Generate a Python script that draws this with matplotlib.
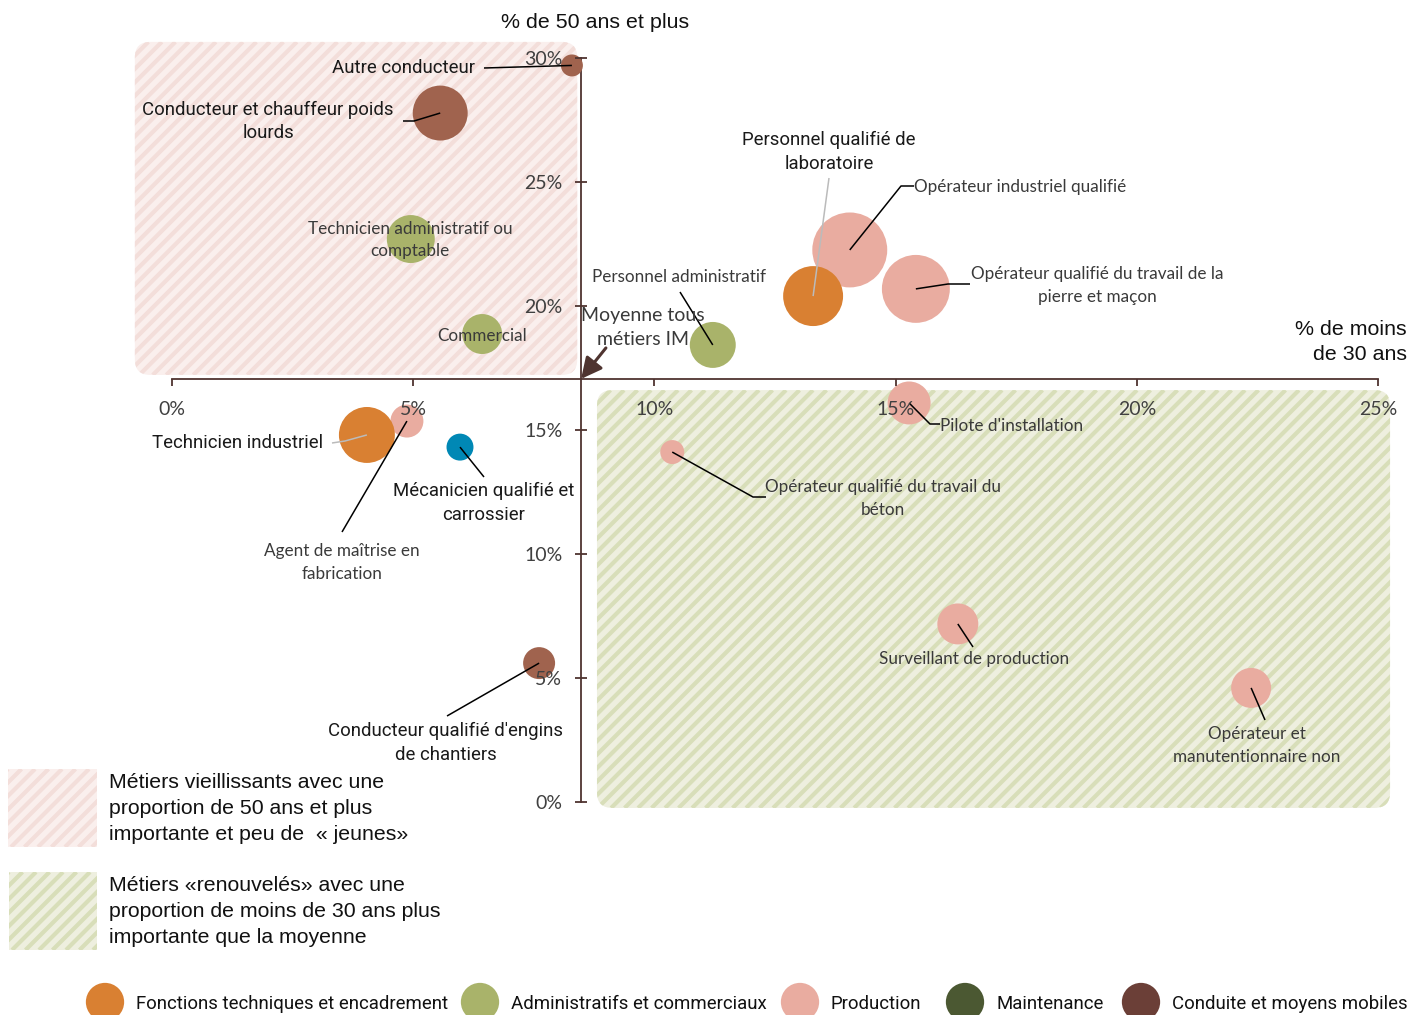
import matplotlib
matplotlib.use("Agg")
import matplotlib.pyplot as plt
from matplotlib.patches import FancyBboxPatch, Rectangle
from matplotlib.collections import LineCollection
from matplotlib.transforms import IdentityTransform, Affine2D

# ---------------- data ----------------
metiers = [
    "Autre conducteur",
    "Conducteur et chauffeur poids lourds",
    "Technicien administratif ou comptable",
    "Commercial",
    "Personnel administratif",
    "Personnel qualifié de laboratoire",
    "Opérateur industriel qualifié",
    "Opérateur qualifié du travail de la pierre et maçon",
    "Pilote d'installation",
    "Opérateur qualifié du travail du béton",
    "Surveillant de production",
    "Opérateur et manutentionnaire non",
    "Technicien industriel",
    "Agent de maîtrise en fabrication",
    "Mécanicien qualifié et carrossier",
    "Conducteur qualifié d'engins de chantiers",
]
pct_moins30 = [8.29, 5.56, 4.95, 6.43, 11.21, 13.29, 14.05, 15.42, 15.28, 10.37, 16.29, 22.37, 4.04, 4.87, 5.97, 7.61]
pct_50plus = [29.70, 27.78, 22.70, 18.87, 18.43, 20.40, 22.26, 20.69, 16.09, 14.11, 7.18, 4.60, 14.80, 15.36, 14.31, 5.60]
effectifs = [121, 756, 576, 400, 529, 900, 1406, 1156, 462, 144, 420, 400, 784, 272, 182, 256]
familles = ["Conduite", "Conduite", "Admin", "Admin", "Admin", "Tech", "Prod", "Prod",
            "Prod", "Prod", "Prod", "Prod", "Tech", "Prod", "Maint", "Conduite"]

familles_cles = ["Tech", "Admin", "Prod", "Maint", "Conduite"]
familles_noms = ["Fonctions techniques et encadrement", "Administratifs et commerciaux",
                 "Production", "Maintenance", "Conduite et moyens mobiles"]
couleurs_legende = ["#D98032", "#A9B36A", "#E9ACA0", "#4B5832", "#6B3F37"]
couleurs_bulles = {"Tech": "#D98032", "Admin": "#A9B36A", "Prod": "#E9ACA0",
                   "Maint": "#0088B5", "Conduite": "#A0634E"}

moyenne_moins30 = 8.48
moyenne_50plus = 17.06

xticks = [0, 5, 10, 15, 20, 25]
xticklabels = ["0%", "5%", "10%", "15%", "20%", "25%"]
yticks = [0, 5, 10, 15, 20, 25, 30]
yticklabels = ["0%", "5%", "10%", "15%", "20%", "25%", "30%"]

# ---------------- figure ----------------
W, H = 1424, 1015
fig = plt.figure(figsize=(W / 100, H / 100), dpi=100)
ax = fig.add_axes([0, 0, 1, 1])
ax.set_xlim(-172 / 48.24, (W - 172) / 48.24)
ax.set_ylim((802 - H) / 24.8, 802 / 24.8)
ax.patch.set_alpha(0)

# pixel (top-left origin) -> display
PIX = Affine2D().scale(1, -1).translate(0, H)
inv = ax.transData.inverted()


def p2d(px, py):
    return inv.transform(PIX.transform((px, py)))


def d2p(x, y):
    d = ax.transData.transform((x, y))
    return d[0], H - d[1]


CALIBRI = ["Lato", "DejaVu Sans"]
ROBOTO = ["Roboto", "DejaVu Sans"]
ARIAL = ["Liberation Sans", "DejaVu Sans"]
AXC = "#4F3430"


def striped(patch, col, period=13.5, lw=3.0, z=0.6):
    ax.add_patch(patch)
    bb = patch.get_window_extent()
    x0, y0, x1, y1 = bb.x0, bb.y0, bb.x1, bb.y1
    h = y1 - y0
    segs = []
    c = x0 - h
    while c < x1:
        segs.append([(c, y0), (c + h, y1)])
        c += period
    lc = LineCollection(segs, colors=col, linewidths=lw, transform=IdentityTransform(), zorder=z)
    ax.add_collection(lc, autolim=False)
    lc.set_clip_path(patch)


# quadrant regions (data coords)
asp = 48.24 / 24.8
r_round = 0.32
pink = FancyBboxPatch((-0.77, 17.22), 8.40 + 0.77, 30.65 - 17.22,
                      boxstyle=f"round,pad=0,rounding_size={r_round}", mutation_aspect=asp,
                      facecolor="#FAEFED", edgecolor="none", zorder=0.5)
striped(pink, "#F3DEDA")
green = FancyBboxPatch((8.81, -0.24), 25.25 - 8.81, 16.61 + 0.24,
                       boxstyle=f"round,pad=0,rounding_size={r_round}", mutation_aspect=asp,
                       facecolor="#EEEFDF", edgecolor="none", zorder=0.5)
striped(green, "#D8DEB9")

# axes / spines
for s in ["top", "right"]:
    ax.spines[s].set_visible(False)
ax.spines["left"].set_position(("data", moyenne_moins30))
ax.spines["bottom"].set_position(("data", moyenne_50plus))
ax.spines["left"].set_bounds(0, 30)
ax.spines["bottom"].set_bounds(0, 25)
for s in ["left", "bottom"]:
    ax.spines[s].set_color(AXC)
    ax.spines[s].set_linewidth(1.3)
    ax.spines[s].set_zorder(1.5)
ax.set_xticks(xticks)
ax.set_xticklabels(xticklabels)
ax.set_yticks(yticks)
ax.set_yticklabels(yticklabels)
ax.tick_params(axis="x", direction="out", length=5, width=1.3, color=AXC, pad=11,
               labelsize=14, labelcolor="#404040")
ax.tick_params(axis="y", direction="inout", length=9, width=1.3, color=AXC, pad=9,
               labelsize=14, labelcolor="#404040")
for lab in ax.get_xticklabels() + ax.get_yticklabels():
    lab.set_family(CALIBRI)
ax.xaxis.set_zorder(5)
ax.yaxis.set_zorder(5)

# bubbles
ordre = sorted(range(len(metiers)), key=lambda i: 0 if familles[i] == "Prod" else 1)
for i in ordre:
    ax.scatter(pct_moins30[i], pct_50plus[i], s=effectifs[i] * 2.07,
               color=couleurs_bulles[familles[i]], edgecolors="none",
               zorder=2 if familles[i] == "Prod" else 2.2, clip_on=False)

# labels: (text, x_px, y_px, ha, style, leader points px, leader colour)
labels = [
    ("Autre conducteur", 475, 68, "right", "r", [(484, 68)], "k"),
    ("Conducteur et chauffeur poids\nlourds", 268, 121.5, "center", "r", [(403, 121), (414, 121)], "k"),
    ("Technicien administratif ou\ncomptable", 410, 240, "center", "c", None, "k"),
    ("Commercial", 482, 336, "center", "c", None, "k"),
    ("Personnel administratif", 679, 277, "center", "c", [(680, 292)], "k"),
    ("Personnel qualifié de\nlaboratoire", 829, 152, "center", "r", [(829, 178)], "#BBBBBB"),
    ("Opérateur industriel qualifié", 914, 187, "left", "c", [(914, 186), (901, 186)], "k"),
    ("Opérateur qualifié du travail de la\npierre et maçon", 1097, 285.5, "center", "c",
     [(970, 284), (948, 284)], "k"),
    ("Pilote d'installation", 940, 426, "left", "c", [(940, 424), (930, 424)], "k"),
    ("Opérateur qualifié du travail du\nbéton", 883, 498.5, "center", "c", [(766, 497), (753, 497)], "k"),
    ("Surveillant de production", 974, 659, "center", "c", [(973, 647)], "k"),
    ("Opérateur et\nmanutentionnaire non", 1257, 745.5, "center", "c", [(1265, 720)], "k"),
    ("Technicien industriel", 323, 443, "right", "r", [(332, 443), (345, 441)], "#BBBBBB"),
    ("Agent de maîtrise en\nfabrication", 342, 562.5, "center", "c", [(342, 532)], "k"),
    ("Mécanicien qualifié et\ncarrossier", 484, 503, "center", "r", [(484, 477)], "k"),
    ("Conducteur qualifié d'engins\nde chantiers", 446, 743, "center", "r", [(447, 716)], "k"),
]

for i, (txt, lx, ly, ha, st, lead, lc) in enumerate(labels):
    if st == "r":
        ax.text(lx, ly, txt, transform=PIX, ha=ha, va="center", ma="center", fontsize=13.4,
                family=ROBOTO, color="#1A1A1A", linespacing=1.38, zorder=6)
    else:
        ax.text(lx, ly, txt, transform=PIX, ha=ha, va="center", ma="center", fontsize=12.3,
                family=CALIBRI, color="#3A3A3A", linespacing=1.47, zorder=6)
    if lead:
        pts = list(lead) + [d2p(pct_moins30[i], pct_50plus[i])]
        xs = [p[0] for p in pts]
        ys = [p[1] for p in pts]
        ax.plot(xs, ys, transform=PIX, color=lc, lw=1.1, zorder=4, solid_capstyle="butt")

# moyenne annotation
ax.annotate("Moyenne tous\nmétiers IM", xy=(moyenne_moins30, moyenne_50plus), xycoords="data",
            xytext=(643, 327.5), textcoords=PIX, ha="center", va="center", fontsize=14,
            family=CALIBRI, color="#3A3A3A", linespacing=1.49, zorder=6,
            arrowprops=dict(arrowstyle="-|>,head_length=0.9,head_width=0.45", color=AXC, lw=2.2,
                            shrinkA=0, shrinkB=0, patchA=None,
                            relpos=(0.2, 0.0)))

# axis titles
ax.text(595, 22, "% de 50 ans et plus", transform=PIX, ha="center", va="center", fontsize=15.4,
        family=ARIAL, color="#111111")
ax.text(1407, 342, "% de moins\nde 30 ans", transform=PIX, ha="right", va="center", ma="right",
        fontsize=15.4, family=ARIAL, color="#111111", linespacing=1.4)

# quadrant legend boxes
lb1 = Rectangle((8, H - 847), 89, 78, transform=IdentityTransform(), facecolor="#FAEFED",
                edgecolor="none", zorder=0.5)
striped(lb1, "#F3DEDA")
lb2 = Rectangle((9, H - 950), 88, 78, transform=IdentityTransform(), facecolor="#EEEFDF",
                edgecolor="none", zorder=0.5)
striped(lb2, "#D8DEB9")
ax.text(109, 808.5, "Métiers vieillissants avec une\nproportion de 50 ans et plus\nimportante et peu de  « jeunes»",
        transform=PIX, ha="left", va="center", fontsize=15.3, family=ARIAL, color="#111111",
        linespacing=1.46)
ax.text(109, 911.5, "Métiers «renouvelés» avec une\nproportion de moins de 30 ans plus\nimportante que la moyenne",
        transform=PIX, ha="left", va="center", fontsize=15.3, family=ARIAL, color="#111111",
        linespacing=1.46)

# family legend
leg_x = [105, 480, 800, 965, 1141]
for k in range(len(familles_cles)):
    cx = leg_x[k]
    xd, yd = p2d(cx, 1002)
    ax.scatter(xd, yd, s=760, color=couleurs_legende[k], edgecolors="none", clip_on=False, zorder=3)
    ax.text(cx + 31, 1004, familles_noms[k], transform=PIX, ha="left", va="center", fontsize=13.4,
            family=ROBOTO, color="#111111")

fig.savefig("out.png", dpi=100)
